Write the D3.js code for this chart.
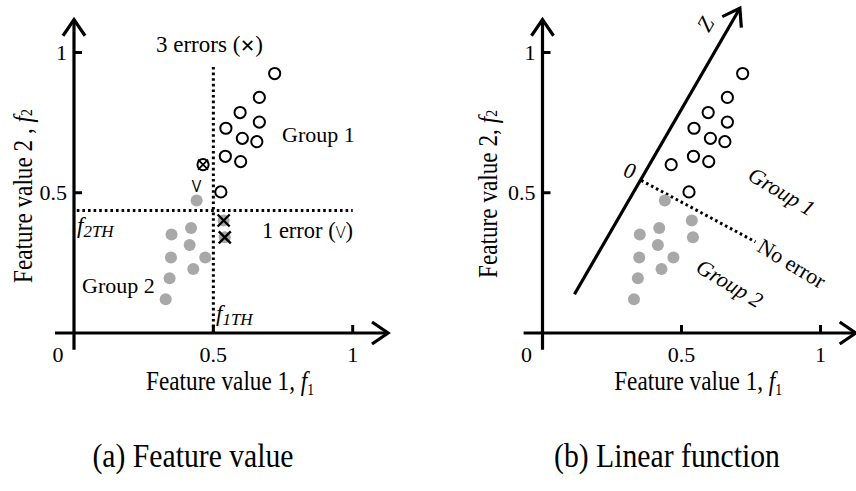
<!DOCTYPE html>
<html>
<head>
<meta charset="utf-8">
<script src="https://cdn.jsdelivr.net/npm/d3@7"></script>
<style>
body { margin: 0; background: #fff; }
text { font-family: "Liberation Serif", "Times New Roman", serif; fill: #000; }
</style>
</head>
<body>
<div id="chart"></div>
<script>
// Group 1 (open circles), feature values f1 / f2
var group1F1 = [0.72, 0.665, 0.596, 0.665, 0.545, 0.604, 0.656, 0.543, 0.598, 0.463, 0.527];
var group1F2 = [0.925, 0.84, 0.786, 0.752, 0.73, 0.694, 0.682, 0.63, 0.611, 0.6, 0.503];
// Group 2 (grey dots)
var group2F1 = [0.44, 0.537, 0.541, 0.35, 0.42, 0.415, 0.348, 0.471, 0.428, 0.343, 0.329];
var group2F2 = [0.472, 0.401, 0.341, 0.351, 0.374, 0.314, 0.269, 0.269, 0.228, 0.195, 0.12];
var tickValues = [0.5, 1];
var tickLabels = ["0.5", "1"];
// thresholds of panel (a)
var f1TH = 0.5, f2TH = 0.437;
// z axis and boundary of panel (b)
var zAxisF1 = [0.115, 0.71], zAxisF2 = [0.138, 1.158];
var boundaryF1 = [0.355, 0.766], boundaryF2 = [0.544, 0.325];

var width = 856, height = 491;
var svg = d3.select("#chart").append("svg")
	.attr("width", width)
	.attr("height", height);

var y = d3.scaleLinear().domain([0, 1]).range([333, 52.5]);
var xa = d3.scaleLinear().domain([0, 1]).range([74, 352.7]);
var xb = d3.scaleLinear().domain([0, 1]).range([542.5, 820.5]);

function label(g, x, yy, parts, o) {
	o = o || {};
	var t = g.append("text")
		.attr("transform", "translate(" + x + "," + yy + ") rotate(" + (o.rot || 0) + ") scale(" + (o.sx || 1) + ",1)")
		.attr("text-anchor", o.anchor || "start")
		.attr("font-size", o.size || 22);
	if (o.central) t.attr("dominant-baseline", "central");
	if (o.font) t.style("font-family", o.font).attr("font-weight", o.weight || 400);
	parts.forEach(function(p) {
		var s = t.append("tspan").text(p.t);
		if (p.i) s.attr("font-style", "italic");
		if (p.dy) s.attr("dy", p.dy);
		if (p.size) s.attr("font-size", p.size);
		if (p.font) s.style("font-family", p.font).attr("font-weight", p.weight || 300);
	});
	return t;
}

// line with an open arrow head at (x2, y2)
function arrow(g, x1, y1, x2, y2) {
	g.append("line").attr("x1", x1).attr("y1", y1).attr("x2", x2).attr("y2", y2)
		.attr("stroke", "#000").attr("stroke-width", 3.2);
	var a = Math.atan2(y2 - y1, x2 - x1), L = 19.5, s = 0.6;
	var p1 = [x2 - L * Math.cos(a - s), y2 - L * Math.sin(a - s)],
		p2 = [x2 - L * Math.cos(a + s), y2 - L * Math.sin(a + s)];
	g.append("path").attr("d", "M" + p1 + "L" + x2 + "," + y2 + "L" + p2)
		.attr("fill", "none").attr("stroke", "#000").attr("stroke-width", 3.2);
}

function frame(g, x) {
	arrow(g, x(-0.068), y(0), x(1.127), y(0));
	arrow(g, x(0), y(-0.06), x(0), y(1.117));
	tickValues.forEach(function(v, i) {
		g.append("line").attr("x1", x(0)).attr("x2", x(0) + 8).attr("y1", y(v)).attr("y2", y(v))
			.attr("stroke", "#000").attr("stroke-width", 3);
		g.append("line").attr("x1", x(v)).attr("x2", x(v)).attr("y1", y(0)).attr("y2", y(0) - 8)
			.attr("stroke", "#000").attr("stroke-width", 3);
		label(g, x(v), 362, [{t: tickLabels[i]}], {anchor: "middle", size: 22});
		label(g, x(0) - 7, y(v) + 7, [{t: tickLabels[i]}], {anchor: "end", size: 22});
	});
	label(g, x(0) - 16, 362, [{t: "0"}], {anchor: "middle", size: 22});
	label(g, x(0.56), 390, [{t: "Feature value 1,  "}, {t: "f", i: 1}, {t: "1", size: 16, dy: 5}],
		{anchor: "middle", size: 27, sx: 0.86});
}

function points(g, x) {
	g.selectAll(".g2").data(d3.range(group2F1.length)).enter().append("circle")
		.attr("class", "g2")
		.attr("cx", function(i) { return x(group2F1[i]); })
		.attr("cy", function(i) { return y(group2F2[i]); })
		.attr("r", 6).attr("fill", "#a8a8a8");
	g.selectAll(".g1").data(d3.range(group1F1.length)).enter().append("circle")
		.attr("class", "g1")
		.attr("cx", function(i) { return x(group1F1[i]); })
		.attr("cy", function(i) { return y(group1F2[i]); })
		.attr("r", 5.6).attr("fill", "none").attr("stroke", "#000").attr("stroke-width", 2);
}

function cross(g, cx, cy, r, w) {
	g.append("path").attr("d", "M" + (cx - r) + "," + (cy - r) + "L" + (cx + r) + "," + (cy + r) +
		"M" + (cx - r) + "," + (cy + r) + "L" + (cx + r) + "," + (cy - r))
		.attr("stroke", "#000").attr("stroke-width", w).attr("fill", "none");
}

// ---------- (a) Feature value ----------
var ga = svg.append("g");
frame(ga, xa);
ga.append("line").attr("x1", xa(f1TH)).attr("x2", xa(f1TH)).attr("y1", 67).attr("y2", y(0))
	.attr("stroke", "#000").attr("stroke-width", 3).attr("stroke-dasharray", "2.6,3");
ga.append("line").attr("x1", xa(0.01)).attr("x2", xa(1)).attr("y1", y(f2TH)).attr("y2", y(f2TH))
	.attr("stroke", "#000").attr("stroke-width", 3).attr("stroke-dasharray", "2.6,3");
points(ga, xa);
// errors against the thresholds
group1F1.forEach(function(v, i) {
	if (v < f1TH) cross(ga, xa(v), y(group1F2[i]), 5, 1.8);
});
group2F1.forEach(function(v, i) {
	if (v > f1TH) cross(ga, xa(v), y(group2F2[i]), 6, 2.4);
	if (group2F2[i] > f2TH) label(ga, xa(v), y(group2F2[i]) - 9, [{t: "V"}],
		{anchor: "middle", size: 16, font: "Open Sans", weight: 400});
});
label(ga, 156, 52, [{t: "3 errors ("}, {t: "\u2715", font: "DejaVu Sans", size: 18}, {t: ")"}], {size: 23});
label(ga, 282, 142, [{t: "Group 1"}], {size: 22});
label(ga, 262, 238, [{t: "1 error ("}, {t: "V", font: "Open Sans", size: 17}, {t: ")"}], {size: 22.5});
label(ga, 82, 293, [{t: "Group 2"}], {size: 22});
label(ga, 77, 233, [{t: "f", i: 1}, {t: "2TH", i: 1, size: 17, dy: 4}], {size: 23});
label(ga, 216, 321, [{t: "f", i: 1}, {t: "1TH", i: 1, size: 17, dy: 4}], {size: 23});
label(ga, 22, 196, [{t: "Feature value 2 ,  "}, {t: "f", i: 1}, {t: "2", size: 16, dy: 5}],
	{anchor: "middle", size: 27, sx: 0.86, rot: -90, central: 1});
label(ga, 193, 467, [{t: "(a) Feature value"}], {anchor: "middle", size: 33, sx: 0.9});

// ---------- (b) Linear function ----------
var gb = svg.append("g");
frame(gb, xb);
arrow(gb, xb(zAxisF1[0]), y(zAxisF2[0]), xb(zAxisF1[1]), y(zAxisF2[1]));
gb.append("line").attr("x1", xb(boundaryF1[0])).attr("y1", y(boundaryF2[0]))
	.attr("x2", xb(boundaryF1[1])).attr("y2", y(boundaryF2[1]))
	.attr("stroke", "#000").attr("stroke-width", 3).attr("stroke-dasharray", "2.6,3");
points(gb, xb);
label(gb, 705, 24, [{t: "Z", i: 1}], {anchor: "middle", size: 22, rot: -60, central: 1});
label(gb, 630, 170, [{t: "0", i: 1}], {anchor: "middle", size: 22, rot: 15, central: 1});
label(gb, 782, 191, [{t: "Group 1", i: 1}], {anchor: "middle", size: 22, rot: 31, central: 1});
label(gb, 792, 263, [{t: "No error"}], {anchor: "middle", size: 22, rot: 31, central: 1});
label(gb, 730, 283, [{t: "Group 2", i: 1}], {anchor: "middle", size: 22, rot: 31, central: 1});
label(gb, 487, 194, [{t: "Feature value 2,  "}, {t: "f", i: 1}, {t: "2", size: 16, dy: 5}],
	{anchor: "middle", size: 27, sx: 0.86, rot: -90, central: 1});
label(gb, 667, 467, [{t: "(b) Linear function"}], {anchor: "middle", size: 33, sx: 0.9});
</script>
</body>
</html>
